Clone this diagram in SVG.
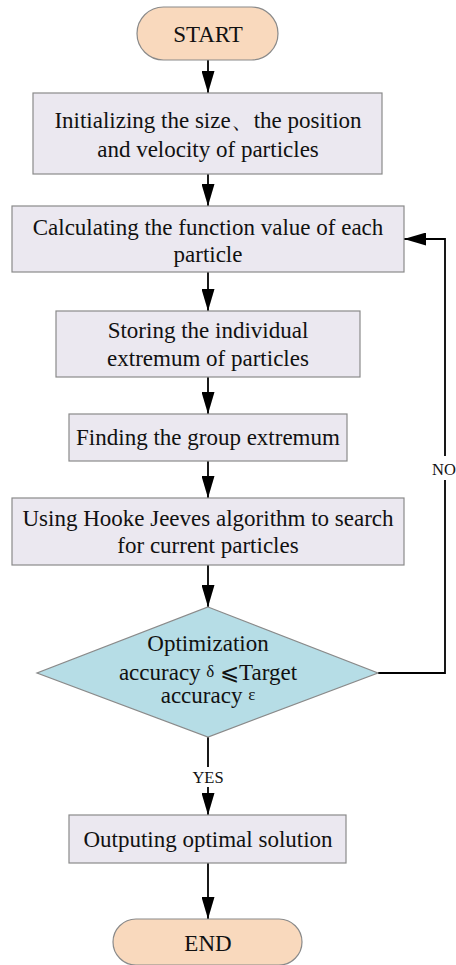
<svg xmlns="http://www.w3.org/2000/svg" width="456" height="965" viewBox="0 0 456 965">
  <style>
    .term { fill: #f9d9bd; stroke: #8a8a8a; stroke-width: 1.2; }
    .proc { fill: #ebe8f0; stroke: #8a8a8a; stroke-width: 1.2; }
    .dec { fill: #b6dde6; stroke: #8a8a8a; stroke-width: 1.2; }
    text { font-family: "Liberation Serif", "Times New Roman", serif; font-size: 23px; fill: #111; text-anchor: middle; }
    .lbl { font-size: 16.5px; }
    .sym { font-size: 17px; }
    .wire { fill: none; stroke: #000; stroke-width: 1.8; }
  </style>
  <defs>
    <marker id="arrow" markerWidth="22" markerHeight="13" refX="22" refY="6.5" viewBox="0 0 22 13" markerUnits="userSpaceOnUse" orient="auto">
      <path d="M0,0 L22,6.5 L0,13 Z" fill="#000"/>
    </marker>
  </defs>
  <rect width="456" height="965" fill="#fff"/>

  <g id="connectors">
    <line class="wire" x1="208" y1="60" x2="208" y2="93" marker-end="url(#arrow)"/>
    <line class="wire" x1="208" y1="174" x2="208" y2="206" marker-end="url(#arrow)"/>
    <line class="wire" x1="208" y1="272" x2="208" y2="311" marker-end="url(#arrow)"/>
    <line class="wire" x1="208" y1="377" x2="208" y2="414" marker-end="url(#arrow)"/>
    <line class="wire" x1="208" y1="461" x2="208" y2="498" marker-end="url(#arrow)"/>
    <line class="wire" x1="208" y1="565" x2="208" y2="607" marker-end="url(#arrow)"/>
    <line class="wire" x1="208" y1="737" x2="208" y2="767"/>
    <line class="wire" x1="208" y1="787" x2="208" y2="815" marker-end="url(#arrow)"/>
    <line class="wire" x1="208" y1="863" x2="208" y2="919" marker-end="url(#arrow)"/>
    <polyline class="wire" points="378,673 445,673 445,480"/>
    <polyline class="wire" points="445,456 445,239 404,239" marker-end="url(#arrow)"/>
    <text class="lbl" x="208" y="783">YES</text>
    <text class="lbl" x="444" y="475">NO</text>
  </g>

  <g id="start">
    <rect class="term" x="137" y="7" width="141" height="53" rx="26.5"/>
    <text x="208" y="42">START</text>
  </g>

  <g id="init">
    <rect class="proc" x="33" y="93" width="349" height="81"/>
    <text x="208" y="128">Initializing the size、the position</text>
    <text x="208" y="157">and velocity of particles</text>
  </g>

  <g id="calc">
    <rect class="proc" x="12" y="206" width="392" height="66"/>
    <text x="208" y="235">Calculating the function value of each</text>
    <text x="208" y="262">particle</text>
  </g>

  <g id="store">
    <rect class="proc" x="56" y="311" width="304" height="66"/>
    <text x="208" y="338">Storing the individual</text>
    <text x="208" y="366">extremum of particles</text>
  </g>

  <g id="group">
    <rect class="proc" x="69" y="414" width="278" height="47"/>
    <text x="208" y="445">Finding the group extremum</text>
  </g>

  <g id="search">
    <rect class="proc" x="12" y="498" width="392" height="67"/>
    <text x="208" y="526">Using Hooke Jeeves algorithm to search</text>
    <text x="208" y="553">for current particles</text>
  </g>

  <g id="check">
    <polygon class="dec" points="208,607 378,673 208,737 37,673"/>
    <text x="208" y="651">Optimization</text>
    <text x="208" y="680">accuracy <tspan class="sym" dy="-3">δ</tspan><tspan dy="3"> ⩽Target</tspan></text>
    <text x="208" y="703">accuracy <tspan class="sym" dy="-3">ε</tspan></text>
  </g>

  <g id="output">
    <rect class="proc" x="69" y="815" width="277" height="48"/>
    <text x="208" y="847">Outputing optimal solution</text>
  </g>

  <g id="end">
    <rect class="term" x="113" y="919" width="189" height="46" rx="23"/>
    <text x="208" y="951">END</text>
  </g>
</svg>
